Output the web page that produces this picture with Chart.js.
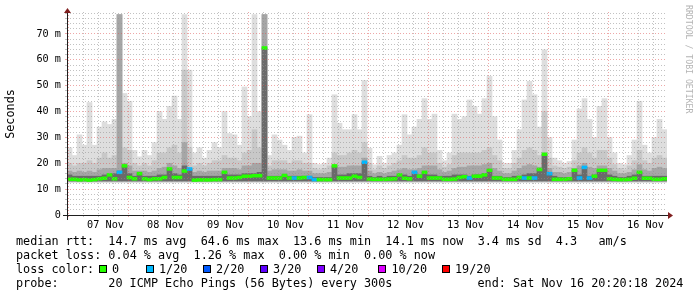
<!DOCTYPE html>
<html>
<head>
<meta charset="utf-8">
<script src="https://cdn.jsdelivr.net/npm/chart.js@4/dist/chart.umd.min.js"></script>
<style>
  html, body { margin: 0; background: #fff; }
  #wrap { width: 697px; height: 297px; position: relative; }
</style>
</head>
<body>
<div id="wrap"><canvas id="smoke"></canvas></div>
<script>
// time axis: hours counted from 07 Nov 00:00, one bin = 2 hours
const startHour = -3.4;
const binHours = 2;
const dayLabels = ['07 Nov', '08 Nov', '09 Nov', '10 Nov', '11 Nov', '12 Nov', '13 Nov', '14 Nov', '15 Nov', '16 Nov'];
const yLabels = { 0: '0', 10: '10 m', 20: '20 m', 30: '30 m', 40: '40 m', 50: '50 m', 60: '60 m', 70: '70 m' };

// smoke (ms): outer envelope down to the band closest to the median
const maxPing = [
  26, 23, 31, 27, 43.5, 27, 34, 36, 35, 37, 77.5, 47, 44, 25, 22.5, 25, 23, 28, 40, 37,
  42, 46, 37, 77.5, 56, 24, 26, 22, 25, 28, 26, 40, 31.5, 31, 27, 49.5, 38, 77.5, 40, 77.5,
  23, 31, 29, 27, 25, 30, 30.5, 24, 38.8, 20, 19.5, 20, 22, 46.5, 35.5, 33, 33, 38.8, 33, 52,
  25.8, 19.4, 22.7, 20, 23, 24, 27, 38.8, 31, 34, 37, 45, 37, 39, 25, 21, 24, 39, 37, 38,
  44.5, 42, 39, 45, 53.6, 38, 29, 20, 20, 25, 33, 44.5, 51.7, 46.5, 34, 63.9, 30, 22, 21, 20,
  20.7, 29, 41, 45, 37, 30, 42, 45, 30, 24, 20, 19.5, 23, 29, 44, 27, 24, 30, 37, 33
];
const band2 = [
  20, 19, 20, 20, 21, 20, 22, 24, 22, 23, 77.5, 26, 25, 20, 19, 20, 19, 21, 24, 24,
  26, 27, 24, 56, 26, 19, 20, 19, 20, 21, 21, 23, 22, 22, 21, 24, 25, 33, 26, 77.5,
  19, 21, 21, 21, 20, 21, 21, 20, 20, 18, 17.5, 18, 19, 24, 23, 23, 24, 25, 24, 28,
  20, 17.5, 19, 18, 19, 20, 21, 23, 22, 22, 23, 26, 24, 24, 20, 18.5, 19.5, 23, 24, 24,
  24, 24, 24, 25, 26, 23, 21, 18, 18, 20, 22, 25, 26, 25, 23, 40, 22, 19, 18.5, 18,
  18.5, 21, 24, 26, 24, 22, 25, 25, 22, 19.5, 18, 17.5, 19, 21, 25, 21, 20, 22, 23, 22
];
const band3 = [
  17, 16.5, 17, 16.5, 17, 16.5, 17.5, 18, 18, 18, 77.5, 20, 19, 17, 17, 17, 16.5, 17, 18, 18.5,
  20, 19, 18, 28, 18, 16.5, 17, 16.5, 17, 17, 17, 18, 18, 18, 17.5, 19, 19, 20, 20, 77.5,
  17, 17.5, 17.5, 17.5, 17, 17, 17.5, 17, 17, 16, 16, 16, 16.5, 19, 18.5, 18.5, 19, 19, 19, 22,
  17, 16, 16.5, 16, 16.5, 17, 17.5, 18, 17.5, 17.5, 18, 19, 19, 19, 17.5, 16.5, 17, 18, 18.5, 18.5,
  19, 19, 19, 19.5, 20, 18, 17, 16, 16, 17, 18, 19, 19.5, 19, 18.5, 23.5, 18, 16.5, 16.5, 16,
  16.5, 18, 19, 20, 18.5, 18, 19, 19, 18, 17, 16, 16, 16.5, 17.5, 19.5, 17.5, 17, 18, 18.5, 18
];
const band4 = [
  15.5, 15, 15, 15, 15, 15, 15, 15.5, 15.5, 16, 17, 19, 16, 15, 16, 15, 15, 15, 15.5, 15.5,
  17.8, 16, 15.5, 19, 17.8, 15, 15, 15, 15, 15, 15, 16.5, 15.5, 15.5, 15.5, 16, 16, 16, 16.5, 64.6,
  15, 15, 15, 15.5, 15, 15, 15, 15, 15, 14.5, 14.5, 14.5, 14.5, 19, 15.5, 15.5, 16, 16, 16, 20.4,
  15, 14.5, 15, 14.5, 15, 15, 15.5, 15.5, 15, 16.5, 15.5, 16.5, 15.5, 15.5, 15, 15, 15, 15.5, 15.5, 15.5,
  15, 15.5, 15.5, 16, 17.5, 15, 15, 14.5, 14.5, 15, 15, 15.5, 16, 16, 17.6, 23.5, 16, 15, 14.5, 14.5,
  14.5, 17.3, 15.5, 18.4, 15, 15.5, 17.3, 17.3, 15.5, 15, 14.5, 14.5, 15, 15.5, 16.5, 15, 15, 15, 15, 15
];
const bandFloor = [12.6, 12.8, 13.0, 13.2];

const medianRtt = [
  13.8, 13.8, 13.6, 13.7, 13.5, 13.7, 14, 14.2, 15.5, 14, 16.5, 19, 14.5, 14, 16, 14, 13.7, 14, 14, 14.5,
  17.8, 14.5, 14.5, 17, 17.8, 13.5, 13.6, 13.6, 13.6, 13.7, 13.7, 16.5, 14.3, 14.3, 14.5, 15, 15, 15.2, 15.2, 64.6,
  14.3, 14.3, 14.3, 15.3, 14.3, 14.3, 14.3, 14.5, 14.5, 13.7, 13.7, 13.7, 13.7, 19, 14.3, 14.3, 14.3, 15, 14.5, 20.4,
  13.9, 13.8, 13.8, 13.8, 13.9, 14, 15.5, 14.2, 14, 16.5, 15, 16.5, 14.3, 14.3, 14.3, 13.8, 13.8, 13.9, 14.5, 14.8,
  14.3, 15, 15, 15.5, 17.3, 14.3, 14.3, 13.8, 13.8, 13.8, 14.5, 14.3, 14.3, 14.3, 17.6, 23.5, 16, 13.8, 13.8, 13.8,
  14, 17.3, 14.3, 18.4, 14.3, 15, 17.3, 17.3, 14, 13.8, 13.7, 13.7, 13.8, 14.2, 16.5, 14.2, 14.2, 13.8, 13.8, 14
];
// lost pings out of 20 per bin
const lostPings = [
  0, 0, 0, 0, 0, 0, 0, 0, 0, 0, 1, 0, 0, 0, 0, 0, 0, 0, 0, 0,
  0, 0, 0, 0, 1, 0, 0, 0, 0, 0, 0, 0, 0, 0, 0, 0, 0, 0, 0, 0,
  0, 0, 0, 0, 0, 1, 0, 0, 1, 1, 0, 0, 0, 0, 0, 0, 0, 0, 0, 1,
  0, 0, 0, 0, 0, 0, 0, 0, 0, 1, 0, 0, 0, 0, 0, 0, 0, 0, 0, 0,
  1, 0, 0, 0, 0, 0, 0, 0, 0, 0, 0, 1, 0, 1, 0, 0, 1, 0, 0, 0,
  0, 0, 1, 1, 1, 0, 0, 0, 0, 0, 0, 0, 0, 0, 0, 0, 0, 0, 0, 0
];

const lossSteps = [0, 1, 2, 3, 4, 10, 19];
const lossNames = ['0', '1/20', '2/20', '3/20', '4/20', '10/20', '19/20'];
const lossColors = ['#26ff00', '#00b8ff', '#0059ff', '#5e00ff', '#7e00ff', '#dd00ff', '#ff0000'];

const legendLines = [
  'median rtt:  14.7 ms avg  64.6 ms max  13.6 ms min  14.1 ms now  3.4 ms sd  4.3   am/s',
  'packet loss: 0.04 % avg  1.26 % max  0.00 % min  0.00 % now'
];
const probeText = '20 ICMP Echo Pings (56 Bytes) every 300s';
const endText = 'end: Sat Nov 16 20:20:18 2024';

const mono = "'DejaVu Sans Mono', monospace";
const gridMinor = 'rgba(143,143,143,0.55)';
const gridMajor = 'rgba(222,79,79,0.5)';
const smokeColors = ['#dedede', '#c8c8c8', '#a6a6a6', '#6a6a6a'];

function binX(i) { return startHour + binHours * (i + 0.5); }
function lossColor(n) {
  let c = lossColors[0];
  lossSteps.forEach((s, k) => { if (n >= s) c = lossColors[k]; });
  return c;
}

const bandData = [maxPing, band2, band3, band4];
const datasets = bandData.map((vals, k) => ({
  data: vals.map((v, i) => ({ x: binX(i), y: [bandFloor[k], v] })),
  backgroundColor: smokeColors[k],
  order: 10 - k
}));
datasets.push({
  data: medianRtt.map((v, i) => ({ x: binX(i), y: [v - 0.55, v + 0.55] })),
  backgroundColor: ctx => lossColor(lostPings[ctx.dataIndex]),
  order: 1
});
datasets.forEach(d => {
  d.grouped = false;
  d.barPercentage = 1;
  d.categoryPercentage = 1;
  d.borderWidth = 0;
});

const rrdDecor = {
  id: 'rrdDecor',
  afterDraw(chart) {
    const ctx = chart.ctx;
    const a = chart.chartArea;
    ctx.save();
    // axes
    ctx.strokeStyle = '#1f1f1f';
    ctx.lineWidth = 1;
    ctx.beginPath();
    ctx.moveTo(a.left - 4, a.bottom + 0.5);
    ctx.lineTo(a.right + 2, a.bottom + 0.5);
    ctx.moveTo(a.left + 0.5, a.bottom + 5);
    ctx.lineTo(a.left + 0.5, a.top);
    ctx.stroke();
    ctx.fillStyle = '#801f1f';
    ctx.beginPath();
    ctx.moveTo(a.left - 3, a.top + 1);
    ctx.lineTo(a.left + 4, a.top + 1);
    ctx.lineTo(a.left + 0.5, a.top - 4);
    ctx.closePath();
    ctx.fill();
    ctx.beginPath();
    ctx.moveTo(a.right + 1, a.bottom - 3);
    ctx.lineTo(a.right + 1, a.bottom + 4);
    ctx.lineTo(a.right + 6, a.bottom + 0.5);
    ctx.closePath();
    ctx.fill();

    // unit label
    ctx.fillStyle = '#000';
    ctx.font = '11.8px ' + mono;
    ctx.textAlign = 'center';
    ctx.textBaseline = 'middle';
    ctx.save();
    ctx.translate(11, 114);
    ctx.rotate(-Math.PI / 2);
    ctx.fillText('Seconds', 0, 0);
    ctx.restore();

    // watermark
    ctx.save();
    ctx.fillStyle = '#b4b4b4';
    ctx.font = '8.2px ' + mono;
    ctx.textAlign = 'left';
    ctx.translate(688, 5);
    ctx.rotate(Math.PI / 2);
    ctx.fillText('RRDTOOL / TOBI OETIKER', 0, 0);
    ctx.restore();

    // legend block
    const col = 7.1;
    ctx.font = '11.8px ' + mono;
    ctx.textAlign = 'left';
    ctx.textBaseline = 'alphabetic';
    ctx.fillStyle = '#000';
    ctx.fillText(legendLines[0], 16, 244.5);
    ctx.fillText(legendLines[1], 16, 258.8);
    ctx.fillText('loss color:', 16, 273.1);
    const boxX = [99, 146, 203, 260, 317, 378, 442];
    const nameX = [112, 159, 216, 273, 330, 391.5, 455];
    lossNames.forEach((n, k) => {
      ctx.fillStyle = lossColors[k];
      ctx.fillRect(boxX[k], 265, 7, 7);
      ctx.strokeStyle = '#000';
      ctx.strokeRect(boxX[k] + 0.5, 265.5, 7, 7);
      ctx.fillStyle = '#000';
      ctx.fillText(n, nameX[k], 273.1);
    });
    ctx.fillText('probe:', 16, 287.4);
    ctx.fillText(probeText, 16 + 13 * col, 287.4);
    ctx.fillText(endText, 16 + 65 * col, 287.4);
    ctx.restore();
  }
};

new Chart(document.getElementById('smoke'), {
  type: 'bar',
  data: { datasets },
  options: {
    responsive: true,
    maintainAspectRatio: false,
    animation: false,
    events: [],
    layout: { padding: { left: 0, right: 30, top: 12, bottom: 62 } },
    plugins: { legend: { display: false }, tooltip: { enabled: false } },
    scales: {
      x: {
        type: 'linear',
        min: startHour,
        max: startHour + binHours * medianRtt.length,
        offset: false,
        afterFit(s) { s.height = 20; },
        afterBuildTicks(s) {
          const t = [];
          for (let h = 0; h <= s.max; h += 6) t.push({ value: h });
          s.ticks = t;
        },
        ticks: {
          autoSkip: false,
          maxRotation: 0,
          padding: 2,
          color: '#000',
          font: { family: mono, size: 10.2 },
          callback: v => (v % 24 === 12 ? dayLabels[(v - 12) / 24] : '')
        },
        grid: {
          z: 1,
          tickLength: 2,
          color: c => (c.tick && c.tick.value % 24 === 0 ? gridMajor : gridMinor)
        },
        border: { display: false, dash: [1, 2] }
      },
      y: {
        min: 0,
        max: 78.5,
        afterFit(s) { s.width = 67; },
        afterBuildTicks(s) {
          const t = [];
          for (let v = 0; v <= s.max; v += 2) t.push({ value: v });
          s.ticks = t;
        },
        ticks: {
          autoSkip: false,
          padding: 4,
          color: '#000',
          font: { family: mono, size: 10.2 },
          callback: v => (yLabels[v] !== undefined ? yLabels[v] : '')
        },
        grid: {
          z: 1,
          tickLength: 2,
          color: c => (c.tick && c.tick.value % 10 === 0 ? gridMajor : gridMinor)
        },
        border: { display: false, dash: [1, 2] }
      }
    }
  },
  plugins: [rrdDecor]
});
</script>
</body>
</html>
